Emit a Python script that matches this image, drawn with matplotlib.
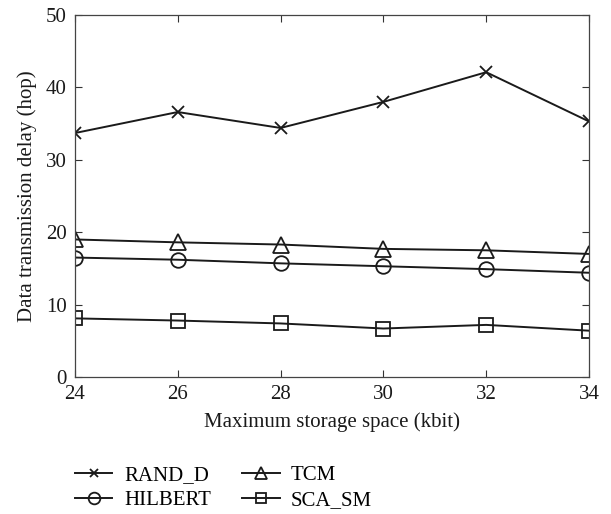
import matplotlib
matplotlib.use("Agg")
import matplotlib.pyplot as plt

# storage sizes (kbit) and delay per scheme (hop)
storage = [24, 26, 28, 30, 32, 34]
rand_d = [33.7, 36.6, 34.4, 38.0, 42.1, 35.3]
hilbert = [16.5, 16.2, 15.7, 15.3, 14.9, 14.4]
tcm = [19.0, 18.6, 18.3, 17.7, 17.5, 17.0]
sca_sm = [8.1, 7.8, 7.4, 6.7, 7.2, 6.4]

plt.rcParams['font.family'] = ['Liberation Serif', 'DejaVu Serif']
plt.rcParams['font.size'] = 15

fig = plt.figure(figsize=(6.11, 5.14), dpi=100)
ax = fig.add_axes([0.1227, 0.2665, 0.8413, 0.7043])

ink = '#1a1a1a'
style = dict(color=ink, lw=1.4, mfc='none', mec=ink, mew=1.3)
ax.plot(storage, rand_d, marker='x', ms=8, label='RAND_D', **style)
ax.plot(storage, hilbert, marker='o', ms=10.5, label='HILBERT', **style)
ax.plot(storage, tcm, marker='^', ms=11, label='TCM', **style)
ax.plot(storage, sca_sm, marker='s', ms=9.5, label='SCA_SM', **style)

ax.set_xlim(24, 34)
ax.set_ylim(0, 50)
ax.set_xticks(storage)
ax.set_yticks([0, 10, 20, 30, 40, 50])
ax.tick_params(direction='in', top=True, right=True, length=5, width=0.8,
               colors='#333333', labelcolor=ink, pad=6)
for s in ax.spines.values():
    s.set_color('#444444')
    s.set_linewidth(0.9)

ax.set_xlabel('Maximum storage space (kbit)', color=ink, labelpad=6)
ax.set_ylabel('Data transmission delay (hop)', color=ink, labelpad=6)

h, l = ax.get_legend_handles_labels()
fig.legend(h, l, ncol=2, frameon=False, loc='lower left',
           bbox_to_anchor=(0.1227, 0.008), borderpad=0, borderaxespad=0,
           handlelength=1.8, columnspacing=1.5, handletextpad=0.55,
           labelspacing=0.25, markerscale=0.8)

fig.savefig('out.png', dpi=100)
